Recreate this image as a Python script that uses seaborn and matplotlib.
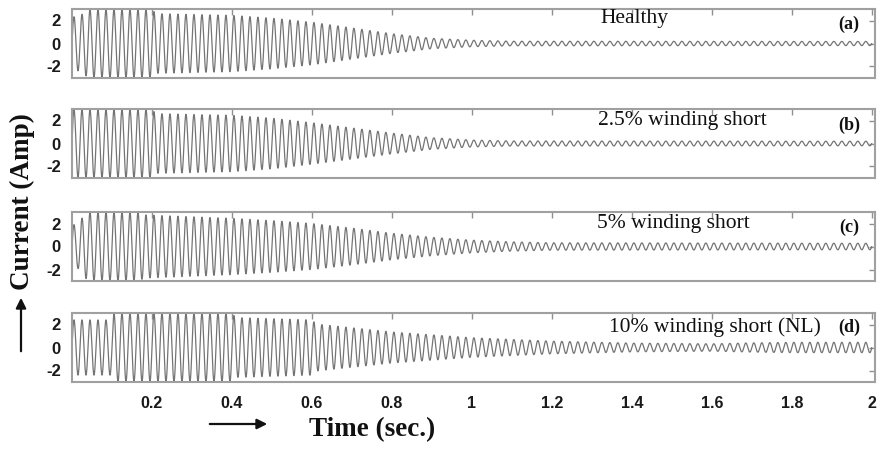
import numpy as np
import pandas as pd
import matplotlib
matplotlib.use("Agg")
import matplotlib.pyplot as plt
import seaborn as sns

# ---- data ----
supply_freq_hz = 50.0
time_end = 2.0

panel_titles = ["Healthy", "2.5% winding short", "5% winding short", "10% winding short (NL)"]
panel_tags = ["(a)", "(b)", "(c)", "(d)"]

# envelope (peak current, A) at read-off instants (s)
env_t_a = [0, 0.02, 0.04, 0.20, 0.21, 0.40, 0.50, 0.60, 0.70, 0.80, 0.90, 1.00, 1.10, 2.00]
env_a = [2.3, 2.4, 2.95, 2.95, 2.6, 2.45, 2.2, 1.85, 1.35, 0.85, 0.45, 0.28, 0.2, 0.18]

env_t_b = [0, 0.20, 0.21, 0.40, 0.50, 0.60, 0.70, 0.80, 0.90, 1.00, 1.10, 2.00]
env_b = [2.95, 2.95, 2.6, 2.45, 2.2, 1.8, 1.35, 0.9, 0.5, 0.3, 0.22, 0.2]

env_t_c = [0, 0.015, 0.02, 0.04, 0.17, 0.18, 0.40, 0.50, 0.60, 0.70, 0.80, 0.90, 1.00, 1.10, 1.20, 2.00]
env_c = [1.9, 1.9, 2.3, 2.95, 2.95, 2.75, 2.45, 2.25, 2.0, 1.6, 1.15, 0.8, 0.55, 0.4, 0.32, 0.28]

env_t_d = [0, 0.10, 0.105, 0.40, 0.41, 0.60, 0.61, 0.80, 1.00, 1.20, 1.40, 1.60, 1.70, 1.80, 2.00]
env_d = [2.4, 2.4, 2.95, 2.95, 2.6, 2.4, 2.05, 1.35, 0.85, 0.55, 0.38, 0.32, 0.4, 0.45, 0.45]

x_ticks = [0.2, 0.4, 0.6, 0.8, 1.0, 1.2, 1.4, 1.6, 1.8, 2.0]
x_tick_labels = ["0.2", "0.4", "0.6", "0.8", "1", "1.2", "1.4", "1.6", "1.8", "2"]
y_ticks = [-2, 0, 2]
y_tick_labels = ["-2", "0", "2"]

envelopes = [(env_t_a, env_a), (env_t_b, env_b), (env_t_c, env_c), (env_t_d, env_d)]

# ---- figure ----
sns.set_style("white")
plt.rcParams["font.family"] = ["Liberation Sans", "DejaVu Sans"]

W, H = 882, 449
fig = plt.figure(figsize=(W / 100, H / 100), dpi=100)

def fx(px):
    return px / W

def fy(py):
    return 1 - py / H

panel_tops = [9, 109, 212, 313]
panel_h = 69
left, right = 72, 875

t = np.linspace(0, time_end, 24000)
frame_col = "#a0a0a0"
serif = ["Liberation Serif", "DejaVu Serif"]

for i, (et, ev) in enumerate(envelopes):
    top = panel_tops[i]
    ax = fig.add_axes([fx(left), fy(top + panel_h), fx(right - left), panel_h / H])
    amp = np.interp(t, et, ev)
    current = amp * np.sin(2 * np.pi * supply_freq_hz * t)
    df = pd.DataFrame({"Time": t, "Current": current})
    sns.lineplot(data=df, x="Time", y="Current", ax=ax, color="#747474",
                 linewidth=0.9, estimator=None, sort=False)
    ax.set_xlim(0, 2.008)
    ax.set_ylim(-3, 3)
    ax.set_xlabel("")
    ax.set_ylabel("")
    ax.set_xticks(x_ticks)
    ax.set_yticks(y_ticks)
    ax.set_yticklabels(y_tick_labels, fontweight="bold", fontsize=12)
    if i == 3:
        ax.set_xticklabels(x_tick_labels, fontweight="bold", fontsize=11.5)
    else:
        ax.set_xticklabels([])
    ax.tick_params(direction="in", top=True, right=True, length=4, width=1,
                   color="#909090", labelcolor="#1a1a1a", pad=8)
    ax.tick_params(axis="x", pad=10)
    for sp in ax.spines.values():
        sp.set_color(frame_col)
        sp.set_linewidth(1.5)

# panel titles
title_pos = [(634, 18), (682, 120), (673, 223), (715, 327)]
for (px, py), txt in zip(title_pos, panel_titles):
    fig.text(fx(px), fy(py), txt, ha="center", va="center", fontsize=15.5,
             family=serif, color="#111111")
tag_pos = [(849, 24), (849, 125), (849, 227), (849, 327)]
for (px, py), txt in zip(tag_pos, panel_tags):
    fig.text(fx(px), fy(py), txt, ha="center", va="center", fontsize=13,
             family=serif, fontweight="bold", color="#111111")

# axis labels
fig.text(fx(22), fy(202), "Current (Amp)", rotation=90, ha="center", va="center",
         fontsize=19.5, family=serif, fontweight="bold", color="#111111")
fig.text(fx(372), fy(430), "Time (sec.)", ha="center", va="center",
         fontsize=19.5, family=serif, fontweight="bold", color="#111111")

# arrows
fig.add_artist(matplotlib.patches.FancyArrowPatch(
    (fx(21), fy(354)), (fx(21), fy(295)), transform=fig.transFigure,
    arrowstyle="-|>,head_length=6,head_width=3", color="#111111", linewidth=1.6))
fig.add_artist(matplotlib.patches.FancyArrowPatch(
    (fx(207), fy(424)), (fx(270), fy(424)), transform=fig.transFigure,
    arrowstyle="-|>,head_length=6,head_width=3", color="#111111", linewidth=1.6))

fig.savefig("out.png", dpi=100)
